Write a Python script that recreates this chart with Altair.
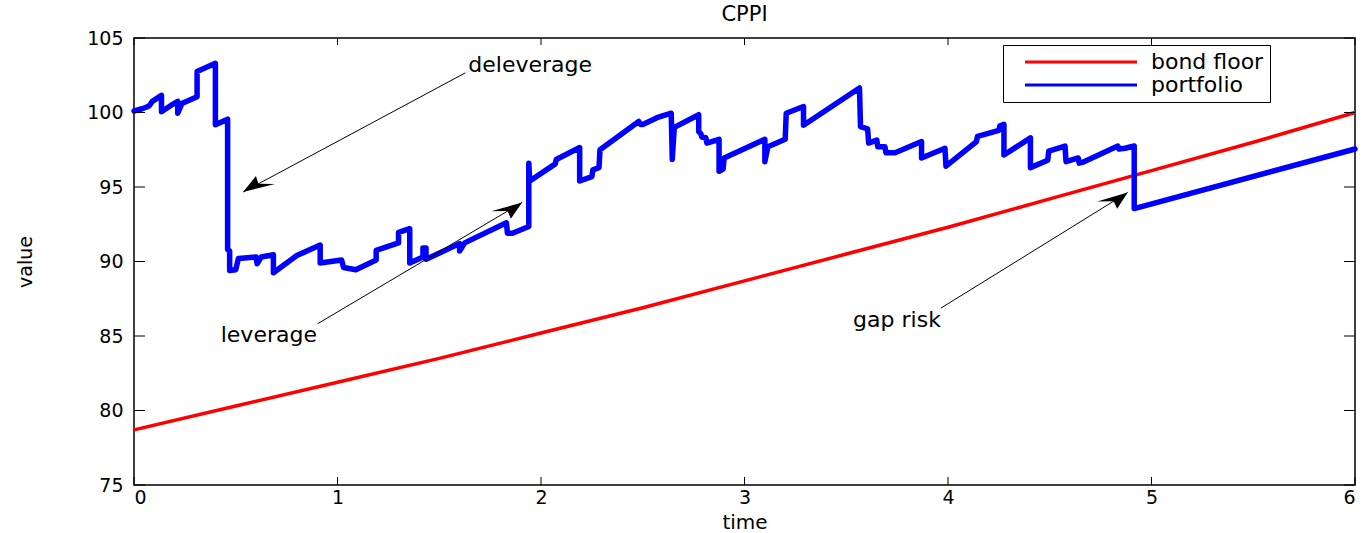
import math

import altair as alt
import pandas as pd

# CPPI simulation: portfolio value path (vertical jumps repeat the time value)
port_t = [0.00, 0.04, 0.06, 0.075, 0.09, 0.135, 0.135, 0.19, 0.215, 0.215, 0.235,
          0.31, 0.31, 0.40, 0.40, 0.46, 0.46, 0.47, 0.47, 0.50, 0.513, 0.60,
          0.605, 0.625, 0.685, 0.685, 0.80, 0.915, 0.915, 1.02, 1.03, 1.09,
          1.19, 1.19, 1.30, 1.30, 1.355, 1.355, 1.42, 1.42, 1.435, 1.435,
          1.60, 1.60, 1.625, 1.83, 1.835, 1.86, 1.94, 1.94, 1.945, 2.07,
          2.075, 2.19, 2.19, 2.25, 2.255, 2.285, 2.29, 2.48, 2.49, 2.50,
          2.57, 2.64, 2.645, 2.655, 2.775, 2.775, 2.785, 2.79, 2.81, 2.815,
          2.875, 2.875, 2.895, 2.90, 3.10, 3.10, 3.115, 3.20, 3.205, 3.29,
          3.29, 3.565, 3.57, 3.605, 3.61, 3.65, 3.655, 3.69, 3.695, 3.74,
          3.87, 3.87, 3.985, 3.99, 4.14, 4.145, 4.25, 4.255, 4.275, 4.275,
          4.405, 4.405, 4.49, 4.495, 4.575, 4.58, 4.64, 4.645, 4.66, 4.835,
          4.84, 4.87, 4.915, 4.915, 6.00]
port_v = [100.10, 100.25, 100.35, 100.45, 100.75, 101.15, 100.05, 100.55, 100.75, 99.95, 100.60,
          101.05, 102.75, 103.30, 99.17, 99.55, 90.80, 90.70, 89.40, 89.45, 90.20, 90.30,
          89.85, 90.30, 90.45, 89.25, 90.40, 91.10, 89.90, 90.10, 89.60, 89.45,
          90.10, 90.75, 91.25, 91.95, 92.20, 89.90, 90.30, 90.90, 90.90, 90.15,
          91.20, 90.70, 91.25, 92.60, 91.90, 91.90, 92.35, 96.60, 95.40, 96.55,
          96.85, 97.65, 95.40, 95.70, 96.15, 96.30, 97.50, 99.40, 99.20, 99.20,
          99.65, 99.95, 96.85, 99.00, 99.85, 98.70, 98.60, 98.35, 98.30, 97.95,
          98.20, 96.05, 96.20, 96.95, 98.20, 96.70, 97.70, 98.20, 99.95, 100.40,
          99.15, 101.65, 99.05, 98.90, 97.95, 98.15, 97.70, 97.70, 97.30, 97.30,
          98.05, 96.95, 97.60, 96.40, 98.05, 98.40, 98.80, 99.10, 99.20, 97.15,
          98.30, 96.30, 96.80, 97.40, 97.75, 96.70, 96.95, 96.60, 96.65, 97.75,
          97.55, 97.60, 97.75, 93.55, 97.55]

# Bond floor (present value of the guaranteed amount)
floor_t = [0.0, 0.5, 1.0, 1.5, 2.0, 2.5, 3.0, 3.5, 4.0, 4.5, 5.0, 5.5, 6.0]
floor_v = [78.7, 80.3, 81.9, 83.5, 85.2, 86.9, 88.7, 90.5, 92.3, 94.2, 96.1, 98.0, 100.0]

series_names = ["bond floor", "portfolio"]
series_colors = ["#ff0000", "#0000ff"]

x_ticks = [0, 1, 2, 3, 4, 5, 6]
y_ticks = [75, 80, 85, 90, 95, 100, 105]

# Annotations: label, label anchor, text alignment, arrow tail and arrow tip
ann_text = ["deleverage", "leverage", "gap risk"]
ann_t = [1.643, 0.899, 3.965]
ann_v = [103.2, 85.08, 86.09]
ann_align = ["left", "right", "right"]
arrow_t0 = [1.628, 0.902, 3.965]
arrow_v0 = [102.66, 85.82, 86.87]
arrow_t1 = [0.536, 1.907, 4.883]
arrow_v1 = [94.66, 93.96, 94.63]

W, H = 1221, 447
T_MIN, T_MAX = 0, 6
V_MIN, V_MAX = 75, 105
FONT = "DejaVu Sans"

rows = []
for i, (t, v) in enumerate(zip(floor_t, floor_v)):
    rows.append({"series": "bond floor", "t": t, "v": v, "i": i})
for i, (t, v) in enumerate(zip(port_t, port_v)):
    rows.append({"series": "portfolio", "t": t, "v": v, "i": i})
lines = pd.DataFrame(rows)

xs = alt.Scale(domain=[T_MIN, T_MAX], nice=False, zero=False)
ys = alt.Scale(domain=[V_MIN, V_MAX], nice=False, zero=False)

# Legend swatch: a 112 px line drawn to the right of the symbol anchor
# (symbolSize=4 makes one path unit equal one pixel)
color = alt.Color(
    "series:N",
    scale=alt.Scale(domain=series_names, range=series_colors),
    legend=alt.Legend(
        title=None, orient="none", legendX=869, legendY=7,
        symbolType="M5,0H117", symbolSize=4, symbolStrokeWidth=3,
        labelFont=FONT, labelFontSize=22, labelColor="black", labelOffset=120,
        padding=6, rowPadding=1, fillColor="white", strokeColor="black",
    ),
)

x_axis = alt.Axis(values=x_ticks, ticks=False, domain=False, grid=False, labelFont=FONT,
                  labelFontSize=19, labelColor="black", labelPadding=3, title="time",
                  titleFont=FONT, titleFontSize=20, titleFontWeight="normal", titleColor="black",
                  titleY=37, titleBaseline="middle", format="d")
y_axis = alt.Axis(values=y_ticks, ticks=False, domain=False, grid=False, labelFont=FONT,
                  labelFontSize=19, labelColor="black", labelPadding=11, title="value",
                  titleFont=FONT, titleFontSize=19, titleFontWeight="normal", titleColor="black",
                  titleX=-109, titleY=H / 2, titleAlign="center", titleBaseline="middle",
                  format="d")

base = alt.Chart(lines).encode(
    x=alt.X("t:Q", scale=xs, axis=x_axis),
    y=alt.Y("v:Q", scale=ys, axis=y_axis),
    color=color,
    order=alt.Order("i:Q"),
)
floor_line = base.transform_filter(alt.datum.series == "bond floor").mark_line(
    strokeWidth=3.5)
port_line = base.transform_filter(alt.datum.series == "portfolio").mark_line(
    strokeWidth=5.5, strokeJoin="round", strokeCap="round")

# Inward tick marks on all four sides of the box
ydf = pd.DataFrame({"v": y_ticks})
xdf = pd.DataFrame({"t": x_ticks})
tick_style = dict(color="black", strokeWidth=1)
ticks = [
    alt.Chart(ydf).mark_rule(**tick_style).encode(
        y=alt.Y("v:Q", scale=ys), x=alt.value(0), x2=alt.value(11)),
    alt.Chart(ydf).mark_rule(**tick_style).encode(
        y=alt.Y("v:Q", scale=ys), x=alt.value(W - 11), x2=alt.value(W)),
    alt.Chart(xdf).mark_rule(**tick_style).encode(
        x=alt.X("t:Q", scale=xs), y=alt.value(H - 8), y2=alt.value(H)),
    alt.Chart(xdf).mark_rule(**tick_style).encode(
        x=alt.X("t:Q", scale=xs), y=alt.value(0), y2=alt.value(7)),
]

# Annotation arrows
arrows = pd.DataFrame({"t0": arrow_t0, "v0": arrow_v0, "t1": arrow_t1, "v1": arrow_v1})
shafts = alt.Chart(arrows).mark_rule(color="black", strokeWidth=1).encode(
    x=alt.X("t0:Q", scale=xs), y=alt.Y("v0:Q", scale=ys),
    x2="t1:Q", y2="v1:Q")

STRETCH = 2.1  # arrowheads are drawn widened horizontally


def head_path(t0, v0, t1, v1, length=16.0, half=6.0, notch=11.0):
    dx = (t1 - t0) * W / (T_MAX - T_MIN) / STRETCH
    dy = -(v1 - v0) * H / (V_MAX - V_MIN)
    n = math.hypot(dx, dy)
    bx, by = -dx / n, -dy / n
    qx, qy = -by, bx
    pts = [(0.0, 0.0),
           (length * bx + half * qx, length * by + half * qy),
           (notch * bx, notch * by),
           (length * bx - half * qx, length * by - half * qy)]
    return "M" + " L".join(f"{x * STRETCH:.2f},{y:.2f}" for x, y in pts) + " Z"


heads = []
for k in range(len(arrow_t1)):
    tip = pd.DataFrame({"t": [arrow_t1[k]], "v": [arrow_v1[k]]})
    heads.append(alt.Chart(tip).mark_point(
        shape=head_path(arrow_t0[k], arrow_v0[k], arrow_t1[k], arrow_v1[k]),
        size=4, filled=True, color="black", opacity=1, strokeWidth=0,
    ).encode(x=alt.X("t:Q", scale=xs), y=alt.Y("v:Q", scale=ys)))

labels = []
for k in range(len(ann_text)):
    lab = pd.DataFrame({"t": [ann_t[k]], "v": [ann_v[k]], "txt": [ann_text[k]]})
    labels.append(alt.Chart(lab).mark_text(
        align=ann_align[k], baseline="middle", font=FONT, fontSize=22, color="black",
    ).encode(x=alt.X("t:Q", scale=xs), y=alt.Y("v:Q", scale=ys), text="txt:N"))

chart = alt.layer(
    floor_line, port_line, *ticks, shafts, *heads, *labels,
).properties(
    width=W, height=H,
    title=alt.Title("CPPI", font=FONT, fontSize=21, fontWeight="normal", color="black",
                    anchor="middle", baseline="bottom", offset=14, dy=31),
    autosize=alt.AutoSizeParams(type="none"),
    padding={"left": 134, "top": 38, "right": 16, "bottom": 48},
).configure_view(
    stroke="black", strokeWidth=1.5,
)

chart.save("out.html", embed_options={"renderer": "svg", "actions": False})
